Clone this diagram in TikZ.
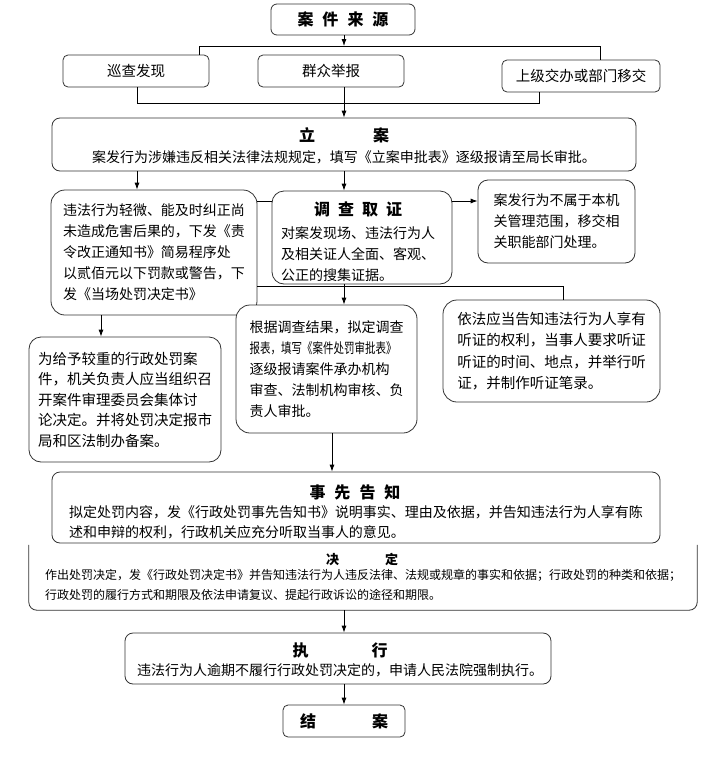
\documentclass[tikz,border=0pt]{standalone}
\usepackage{fontspec}
\setmainfont{Noto Sans CJK SC}
\usepackage{graphicx}
\usetikzlibrary{arrows.meta,positioning}

\tikzset{
  box/.style={draw=black!80, line width=0.8pt, rounded corners=8pt, fill=white, inner sep=0pt},
  body/.style={align=left, font=\fontsize{14}{21}\selectfont, inner sep=0pt},
  ttl/.style={font=\bfseries\fontsize{16}{16}\selectfont, inner sep=0pt},
  link/.style={line width=0.8pt},
  arr/.style={link, -{Latex[length=7pt,width=5pt]}},
}

\begin{document}
\begin{tikzpicture}[x=1pt,y=-1pt]
  \useasboundingbox (0,0) rectangle (715,758);

  % Case sources
  \node[box, ttl, rounded corners=6pt, minimum width=144pt, minimum height=31pt] (src) at (343,19.5) {案\hspace{9pt}件\hspace{9pt}来\hspace{9pt}源};
  \node[box, body, rounded corners=5pt, minimum width=146pt, minimum height=32pt, font=\fontsize{14.5}{16}\selectfont] (xc) at (136,71) {巡查发现};
  \node[box, body, rounded corners=5pt, minimum width=146pt, minimum height=32pt, font=\fontsize{14.5}{16}\selectfont] (qz) at (331,71) {群众举报};
  \node[box, body, rounded corners=5pt, minimum width=158pt, minimum height=32pt, font=\fontsize{14.5}{16}\selectfont] (sj) at (581,76) {上级交办或部门移交};

  % Filing
  \node[box, minimum width=584pt, minimum height=53pt] (la) at (344,144.5) {};
  \node[ttl] (la-t) at (344,135) {立\hspace{58pt}案};
  \node[body] (la-b) at (344,157) {案发行为涉嫌违反相关法律法规规定，填写《立案申批表》逐级报请至局长审批。};

  % Investigation row
  \node[box, body, rounded corners=14pt, minimum width=206pt, minimum height=125pt] (jw) at (154,252.5)
    {违法行为轻微、能及时纠正尚\\未造成危害后果的，下发《责\\令改正通知书》简易程序处\\以贰佰元以下罚款或警告，下\\发《当场处罚决定书》};
  \node[box, rounded corners=12pt, minimum width=180pt, minimum height=93pt] (dc) at (362,237.5) {};
  \node[ttl] (dc-t) at (358,209) {调\hspace{8pt}查\hspace{8pt}取\hspace{8pt}证};
  \node[body] (dc-b) at (358,254) {对案发现场、违法行为人\\及相关证人全面、客观、\\公正的搜集证据。};
  \node[box, body, rounded corners=10pt, minimum width=157pt, minimum height=83pt] (yj) at (556.5,221.5)
    {案发行为不属于本机\\关管理范围，移交相\\关职能部门处理。};

  % Decision preparation row
  \node[box, body, rounded corners=12pt, minimum width=192pt, minimum height=125pt, font=\fontsize{14.5}{20.5}\selectfont] (jt) at (125,399.5)
    {为给予较重的行政处罚案\\件，机关负责人应当组织召\\开案件审理委员会集体讨\\论决定。并将处罚决定报市\\局和区法制办备案。};
  \node[box, body, rounded corners=14pt, minimum width=181pt, minimum height=128pt] (sp) at (326.5,369)
    {根据调查结果，拟定调查\\\scalebox{0.75}[1]{报表，填写《案件处罚审批表》}\\逐级报请案件承办机构\\审查、法制机构审核、负\\责人审批。};
  \node[box, body, rounded corners=14pt, minimum width=217pt, minimum height=102pt, font=\fontsize{14.5}{21.5}\selectfont] (tz) at (551.5,351)
    {依法应当告知违法行为人享有\\听证的权利，当事人要求听证\\听证的时间、地点，并举行听\\证，并制作听证笔录。};

  % Prior notice
  \node[box, minimum width=608pt, minimum height=71pt] (xg) at (356,507.5) {};
  \node[ttl] (xg-t) at (355,492) {事\hspace{9pt}先\hspace{9pt}告\hspace{9pt}知};
  \node[body, font=\fontsize{14}{19.5}\selectfont] (xg-b) at (356,522.5)
    {拟定处罚内容，发《行政处罚事先告知书》说明事实、理由及依据，并告知违法行为人享有陈\\述和申辩的权利，行政机关应充分听取当事人的意见。};

  % Decision (top edge hidden)
  \node[minimum width=668pt, minimum height=65pt, inner sep=0pt] (jd) at (363,577.5) {};
  \draw[draw=black!80, line width=0.8pt, rounded corners=8pt] (jd.north west) -- (jd.south west) -- (jd.south east) -- (jd.north east);
  \node[ttl, font=\bfseries\fontsize{13}{13}\selectfont] (jd-t) at (362,559) {决\hspace{46pt}定};
  \node[body, font=\fontsize{12}{20}\selectfont] (jd-b) at (363,585)
    {作出处罚决定，发《行政处罚决定书》并告知违法行为人违反法律、法规或规章的事实和依据；行政处罚的种类和依据；\\行政处罚的履行方式和期限及依法申请复议、提起行政诉讼的途径和期限。};

  % Execution and closing
  \node[box, minimum width=426pt, minimum height=51pt] (zx) at (338,658.5) {};
  \node[ttl] (zx-t) at (340,650) {执\hspace{63pt}行};
  \node[body] (zx-b) at (340,670) {违法行为人逾期不履行行政处罚决定的，申请人民法院强制执行。};
  \node[box, ttl, rounded corners=5pt, minimum width=122pt, minimum height=32pt] (ja) at (344,721) {结\hspace{56pt}案};

  % Junctions
  \coordinate (t1) at (344,46);
  \coordinate (tl) at (199,46);
  \coordinate (tr) at (600,46);
  \coordinate (bl) at (137,103);
  \coordinate (br) at (539,103);
  \coordinate (m1) at (0,201);
  \coordinate (m2) at (563,286);
  \coordinate (m3) at (101,0);
  \coordinate (m4) at (332,0);

  % Connectors
  \draw[arr] (src.south -| t1) -- (t1);
  \draw[link] (xc.north -| tl) -- (tl) -- (tr) -- (sj.north -| tr);
  \draw[link] (xc.south -| bl) -- (bl) -- (br) -- (sj.south -| br);
  \draw[arr] (qz.south -| t1) -- (la.north -| t1);
  \draw[arr] (la.south -| bl) -- (jw.north -| bl);
  \draw[arr] (la.south -| t1) -- (dc.north -| t1);
  \draw[link] (jw.east |- m1) -- (dc.west |- m1);
  \draw[arr] (dc.east |- m1) -- (yj.west |- m1);
  \draw[link] (jw.east |- m2) -- (m2) -- (tz.north -| m2);
  \draw[arr] (dc.south -| t1) -- (sp.north -| t1);
  \draw[arr] (jw.south -| m3) -- (jt.north -| m3);
  \draw[arr] (sp.south -| m4) -- (xg.north -| m4);
  \draw[arr] (jd.south -| t1) -- (zx.north -| t1);
  \draw[arr] (zx.south -| t1) -- (ja.north -| t1);
\end{tikzpicture}
\end{document}
